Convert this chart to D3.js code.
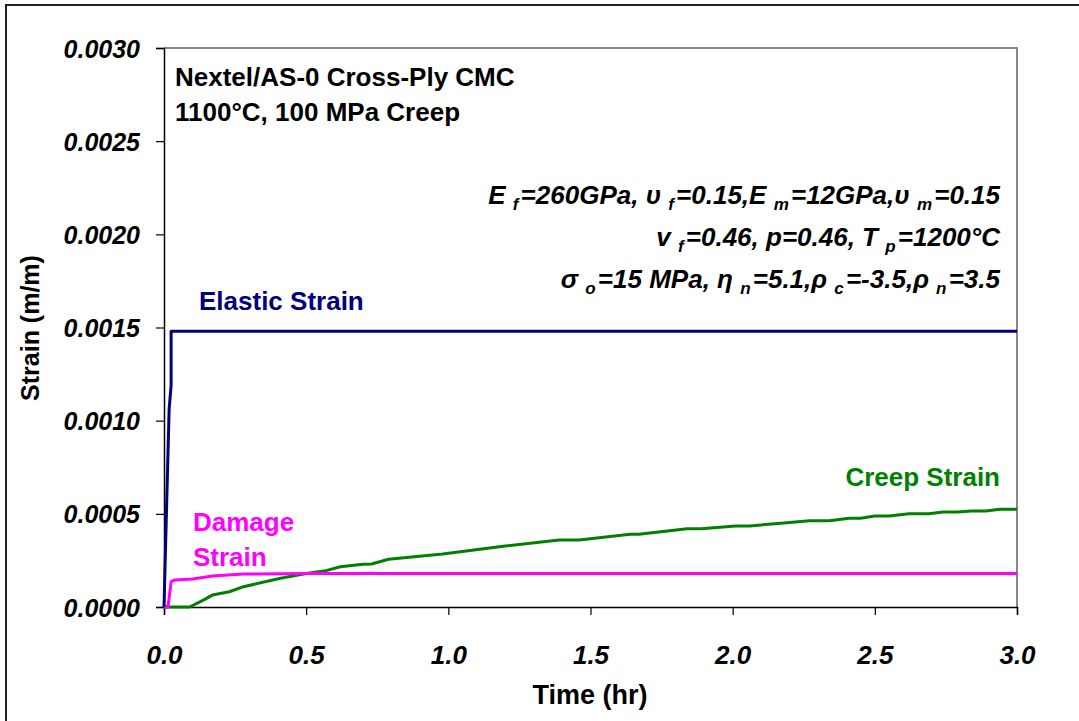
<!DOCTYPE html>
<html>
<head>
<meta charset="utf-8">
<script src="https://cdn.jsdelivr.net/npm/d3@7"></script>
<style>
  body { margin: 0; background: #fff; }
  svg { display: block; font-family: "Liberation Sans", Arial, sans-serif; }
</style>
</head>
<body>
<svg id="chart" width="1079" height="721"></svg>
<script>
// ---- data ----
const xTicks = [0.0, 0.5, 1.0, 1.5, 2.0, 2.5, 3.0];
const yTicks = [0.0000, 0.0005, 0.0010, 0.0015, 0.0020, 0.0025, 0.0030];

const elasticTime   = [0, 0.018, 0.025, 0.025, 3.0];
const elasticStrain = [0, 0.00106, 0.00119, 0.00148, 0.00148];

const damageTime   = [0, 0.014, 0.025, 0.038, 0.10, 0.17, 0.28, 0.50, 3.0];
const damageStrain = [0, 0, 0.000136, 0.000145, 0.00015, 0.000166, 0.000177, 0.00018, 0.00018];

const creepTime   = [0, 0.09, 0.14, 0.17, 0.23, 0.28, 0.41, 0.50, 0.57, 0.62, 0.70, 0.73, 0.79, 0.98, 1.20, 1.39, 1.46, 1.64, 1.67, 1.84, 1.89, 2.01, 2.06, 2.17, 2.27, 2.34, 2.41, 2.45, 2.50, 2.55, 2.62, 2.69, 2.74, 2.79, 2.84, 2.89, 2.94, 3.0];
const creepStrain = [0, 0, 0.000038, 0.000064, 0.000082, 0.000109, 0.000154, 0.00018, 0.000195, 0.000216, 0.00023, 0.000231, 0.000256, 0.000284, 0.000327, 0.00036, 0.00036, 0.00039, 0.00039, 0.00042, 0.00042, 0.000435, 0.000435, 0.00045, 0.000463, 0.000463, 0.000476, 0.000476, 0.000488, 0.000488, 0.0005, 0.0005, 0.00051, 0.00051, 0.000515, 0.000515, 0.000524, 0.000524];

// ---- layout ----
const svg = d3.select("#chart");
const L = 164, R = 1017, T = 48, B = 607;
const x = d3.scaleLinear().domain([0, 3]).range([L, R]);
const y = d3.scaleLinear().domain([0, 0.003]).range([B, T]);

// outer frame
svg.append("rect").attr("x", 6).attr("y", 5).attr("width", 1090).attr("height", 740)
  .attr("fill", "none").attr("stroke", "#222").attr("stroke-width", 2);

// plot area border (top & right gray)
svg.append("path")
  .attr("d", `M${L},${T}H${R}V${B}`)
  .attr("fill", "none").attr("stroke", "#888").attr("stroke-width", 2);

// axes
const xAxis = svg.append("g").attr("transform", `translate(0,${B})`)
  .call(d3.axisBottom(x).tickValues(xTicks).tickSize(8).tickFormat(d3.format(".1f")));
const yAxis = svg.append("g").attr("transform", `translate(${L},0)`)
  .call(d3.axisLeft(y).tickValues(yTicks).tickSize(8).tickFormat(d3.format(".4f")));
[xAxis, yAxis].forEach(g => {
  g.select(".domain").attr("stroke", "#000").attr("stroke-width", 1.5);
  g.selectAll(".tick line").attr("stroke", "#000").attr("stroke-width", 1.2);
  g.selectAll("text").attr("fill", "#000").attr("font-family", "Liberation Sans, Arial, sans-serif")
    .attr("font-weight", "bold").attr("font-style", "italic");
});
xAxis.selectAll("text").attr("font-size", 26).attr("dy", null).attr("y", 57);
yAxis.selectAll("text").attr("font-size", 25).attr("x", -24).attr("dy", "0.36em");

// axis titles
svg.append("text").attr("x", 590).attr("y", 704).attr("text-anchor", "middle")
  .attr("font-size", 27).attr("font-weight", "bold").text("Time (hr)");
svg.append("text").attr("transform", "translate(39,328) rotate(-90)").attr("text-anchor", "middle")
  .attr("font-size", 25).attr("font-weight", "bold").text("Strain (m/m)");

// lines
const line = d3.line().x(d => x(d[0])).y(d => y(d[1]));
function draw(ts, vs, color) {
  svg.append("path").datum(ts.map((t, i) => [t, vs[i]]))
    .attr("d", line).attr("fill", "none").attr("stroke", color)
    .attr("stroke-width", 3).attr("stroke-linejoin", "round");
}
draw(creepTime, creepStrain, "#008000");
draw(damageTime, damageStrain, "#FF00FF");
draw(elasticTime, elasticStrain, "#000080");

// annotations
const ann = svg.append("g").attr("font-weight", "bold").attr("font-size", 26);
ann.append("text").attr("x", 175).attr("y", 86).text("Nextel/AS-0 Cross-Ply CMC");
ann.append("text").attr("x", 175).attr("y", 121).text("1100°C, 100 MPa Creep");

ann.append("text").attr("x", 199).attr("y", 310).attr("fill", "#000080").text("Elastic Strain");
ann.append("text").attr("x", 193).attr("y", 531).attr("fill", "#FF00FF").text("Damage");
ann.append("text").attr("x", 193).attr("y", 566).attr("fill", "#FF00FF").text("Strain");
ann.append("text").attr("x", 1000).attr("y", 486).attr("text-anchor", "end").attr("fill", "#008000").text("Creep Strain");

// parameter lines with subscripts
function richLine(yy, parts) {
  const t = ann.append("text").attr("x", 1000).attr("y", yy).attr("text-anchor", "end")
    .attr("font-style", "italic");
  parts.forEach(p => {
    if (typeof p === "string") {
      t.append("tspan").attr("dy", 0).text(p);
    } else {
      t.append("tspan").attr("font-size", 17).attr("dy", 6).text(p.sub);
      t.append("tspan").attr("dy", -6).text("\u200A");
    }
  });
}
richLine(204, ["E ", {sub: "f"}, "=260GPa, \u03C5 ", {sub: "f"}, "=0.15,E ", {sub: "m"}, "=12GPa,\u03C5 ", {sub: "m"}, "=0.15"]);
richLine(246, ["v ", {sub: "f"}, "=0.46, p=0.46, T ", {sub: "p"}, "=1200°C"]);
richLine(288, ["\u03C3 ", {sub: "o"}, "=15 MPa, \u03B7 ", {sub: "n"}, "=5.1,\u03C1 ", {sub: "c"}, "=-3.5,\u03C1 ", {sub: "n"}, "=3.5"]);
</script>
</body>
</html>
